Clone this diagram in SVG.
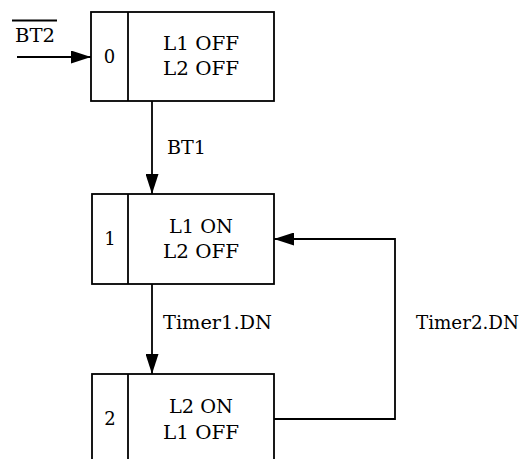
<svg xmlns="http://www.w3.org/2000/svg" width="520" height="459" viewBox="0 0 520 459">
<defs>
<marker id="ah" markerWidth="20" markerHeight="13" refX="20" refY="6.5" orient="auto" markerUnits="userSpaceOnUse">
<path d="M0,0 L20,6.5 L0,13 Z" fill="#000"/>
</marker>
<style>
.box{fill:#fff;stroke:#000;stroke-width:1.8}
.ln{fill:none;stroke:#000;stroke-width:1.8}
.c{text-anchor:middle}
</style>
</defs>
<rect width="520" height="459" fill="#fff"/>
<g font-family="'DejaVu Serif', serif" font-size="18" fill="#000">
<g id="connectors">
<line class="ln" x1="17" y1="57" x2="91" y2="57" marker-end="url(#ah)"/>
<line class="ln" x1="152" y1="101" x2="152" y2="194" marker-end="url(#ah)"/>
<line class="ln" x1="152" y1="284" x2="152" y2="374" marker-end="url(#ah)"/>
<polyline class="ln" points="274,419 395,419 395,239 274,239" marker-end="url(#ah)"/>
<text x="15" y="42" textLength="40" lengthAdjust="spacingAndGlyphs">BT2</text>
<line class="ln" x1="12" y1="20.5" x2="57" y2="20.5" stroke-width="1.2"/>
<text x="167" y="154" textLength="39" lengthAdjust="spacingAndGlyphs">BT1</text>
<text x="163" y="329" textLength="109" lengthAdjust="spacingAndGlyphs">Timer1.DN</text>
<text x="416" y="329" textLength="103" lengthAdjust="spacingAndGlyphs">Timer2.DN</text>
</g>
<g id="node0">
<rect class="box" x="91" y="12" width="183" height="89"/>
<line class="ln" x1="128" y1="12" x2="128" y2="101"/>
<text class="c" x="109.5" y="63">0</text>
<text class="c" x="201" y="50" textLength="76" lengthAdjust="spacingAndGlyphs">L1 OFF</text>
<text class="c" x="201" y="75" textLength="76" lengthAdjust="spacingAndGlyphs">L2 OFF</text>
</g>
<g id="node1">
<rect class="box" x="92" y="194" width="182" height="90"/>
<line class="ln" x1="128" y1="194" x2="128" y2="284"/>
<text class="c" x="110" y="245">1</text>
<text class="c" x="201" y="233" textLength="64" lengthAdjust="spacingAndGlyphs">L1 ON</text>
<text class="c" x="201" y="258" textLength="76" lengthAdjust="spacingAndGlyphs">L2 OFF</text>
</g>
<g id="node2">
<rect class="box" x="92" y="374" width="182" height="92"/>
<line class="ln" x1="128" y1="374" x2="128" y2="466"/>
<text class="c" x="110" y="425">2</text>
<text class="c" x="201" y="413" textLength="64" lengthAdjust="spacingAndGlyphs">L2 ON</text>
<text class="c" x="201" y="439" textLength="76" lengthAdjust="spacingAndGlyphs">L1 OFF</text>
</g>
</g>
</svg>
